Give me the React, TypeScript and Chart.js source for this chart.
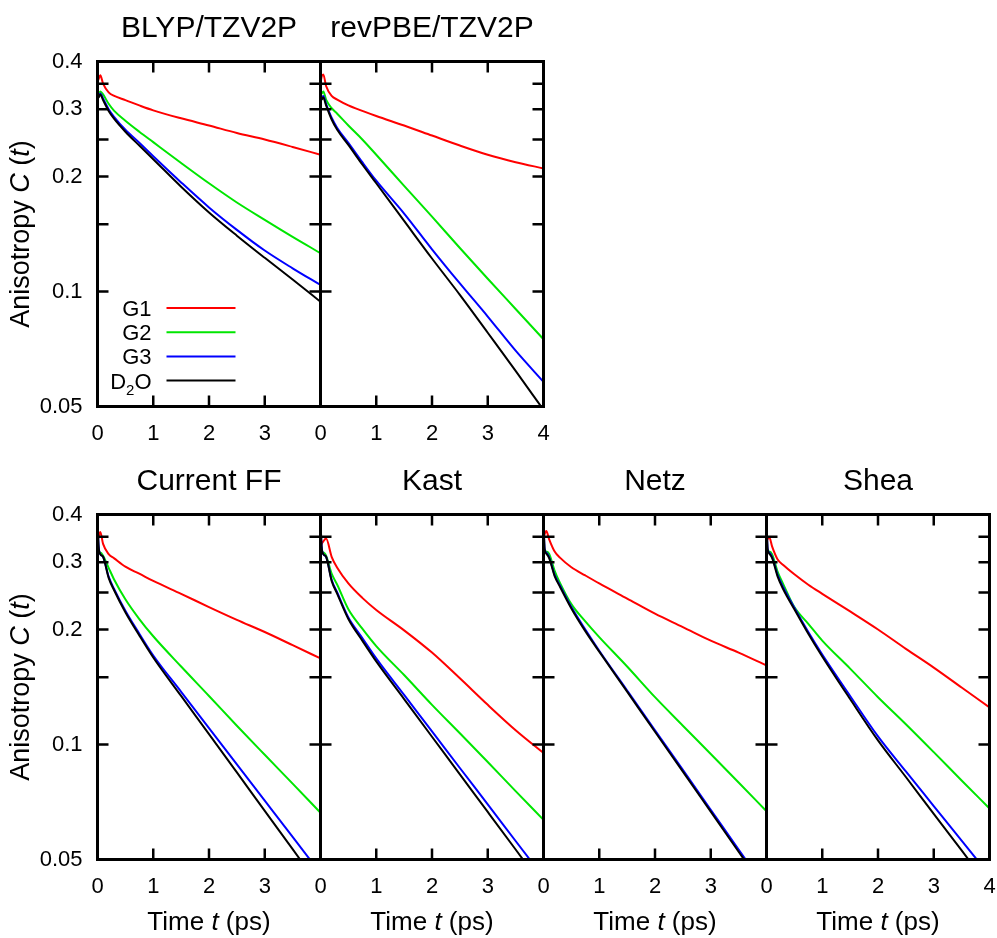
import React, { useEffect, useRef } from 'react';
import { Chart, registerables } from 'chart.js';

Chart.register(...registerables);

// ---------------- data ----------------
const timePs = [0, 0.02, 0.05, 0.1, 0.2, 0.3, 0.5, 0.75, 1, 1.5, 2, 2.5, 3, 3.5, 4];
const seriesNames = ['G1', 'G2', 'G3', 'D2O'];
const seriesColors = ['#ff0000', '#00e600', '#0000ff', '#000000'];

const panelTitles = ['BLYP/TZV2P', 'revPBE/TZV2P', 'Current FF', 'Kast', 'Netz', 'Shea'];

const blypG1 = [0.355, 0.36, 0.368, 0.35, 0.332, 0.325, 0.317, 0.307, 0.298, 0.284, 0.272, 0.26, 0.25, 0.239, 0.228];
const blypG2 = [0.33, 0.33, 0.334, 0.328, 0.31, 0.297, 0.28, 0.262, 0.246, 0.217, 0.192, 0.171, 0.154, 0.139, 0.126];
const blypG3 = [0.34, 0.325, 0.33, 0.32, 0.3, 0.286, 0.265, 0.245, 0.226, 0.193, 0.166, 0.145, 0.128, 0.115, 0.104];
const blypD2O = [0.34, 0.322, 0.328, 0.317, 0.297, 0.283, 0.262, 0.241, 0.222, 0.188, 0.161, 0.14, 0.1225, 0.1075, 0.094];

const revpbeG1 = [0.35, 0.365, 0.37, 0.345, 0.325, 0.318, 0.307, 0.297, 0.288, 0.272, 0.256, 0.241, 0.228, 0.218, 0.21];
const revpbeG2 = [0.33, 0.33, 0.334, 0.318, 0.302, 0.292, 0.272, 0.25, 0.228, 0.189, 0.157, 0.13, 0.108, 0.09, 0.075];
const revpbeG3 = [0.34, 0.32, 0.325, 0.31, 0.285, 0.268, 0.245, 0.218, 0.195, 0.16, 0.129, 0.105, 0.086, 0.07, 0.058];
const revpbeD2O = [0.34, 0.318, 0.322, 0.307, 0.282, 0.265, 0.242, 0.215, 0.192, 0.153, 0.122, 0.098, 0.078, 0.062, 0.049];

const currentG1 = [0.34, 0.35, 0.36, 0.335, 0.315, 0.307, 0.292, 0.28, 0.268, 0.248, 0.229, 0.212, 0.197, 0.182, 0.168];
const currentG2 = [0.33, 0.318, 0.318, 0.312, 0.29, 0.27, 0.24, 0.213, 0.192, 0.16, 0.134, 0.112, 0.094, 0.079, 0.0663];
const currentG3 = [0.38, 0.33, 0.315, 0.31, 0.275, 0.255, 0.224, 0.195, 0.171, 0.1374, 0.1104, 0.0887, 0.0713, 0.0573, 0.046];
const currentD2O = [0.39, 0.33, 0.315, 0.31, 0.273, 0.253, 0.222, 0.193, 0.169, 0.134, 0.1065, 0.0845, 0.067, 0.0532, 0.0422];

const kastG1 = [0.33, 0.335, 0.34, 0.346, 0.31, 0.29, 0.264, 0.242, 0.225, 0.199, 0.174, 0.149, 0.127, 0.109, 0.095];
const kastG2 = [0.33, 0.318, 0.318, 0.312, 0.28, 0.262, 0.226, 0.201, 0.181, 0.152, 0.127, 0.107, 0.09, 0.0755, 0.0635];
const kastG3 = [0.38, 0.33, 0.315, 0.31, 0.27, 0.25, 0.215, 0.19, 0.168, 0.1348, 0.1082, 0.0868, 0.0697, 0.0559, 0.0449];
const kastD2O = [0.39, 0.33, 0.315, 0.31, 0.268, 0.248, 0.213, 0.187, 0.165, 0.1315, 0.1048, 0.0835, 0.0666, 0.0531, 0.0423];

const netzG1 = [0.345, 0.355, 0.362, 0.345, 0.32, 0.308, 0.291, 0.277, 0.264, 0.241, 0.22, 0.203, 0.187, 0.174, 0.161];
const netzG2 = [0.33, 0.318, 0.32, 0.316, 0.285, 0.264, 0.233, 0.21, 0.191, 0.16, 0.133, 0.112, 0.0944, 0.0795, 0.0669];
const netzG3 = [0.38, 0.325, 0.318, 0.31, 0.278, 0.26, 0.229, 0.2, 0.176, 0.1385, 0.109, 0.0858, 0.0675, 0.0531, 0.0418];
const netzD2O = [0.39, 0.325, 0.316, 0.308, 0.276, 0.258, 0.227, 0.198, 0.175, 0.1375, 0.108, 0.0849, 0.0667, 0.0524, 0.0412];

const sheaG1 = [0.34, 0.345, 0.349, 0.33, 0.305, 0.295, 0.279, 0.262, 0.248, 0.223, 0.2, 0.178, 0.159, 0.141, 0.125];
const sheaG2 = [0.33, 0.318, 0.32, 0.315, 0.283, 0.263, 0.229, 0.207, 0.187, 0.158, 0.133, 0.113, 0.0955, 0.0805, 0.068];
const sheaG3 = [0.38, 0.325, 0.318, 0.31, 0.278, 0.258, 0.228, 0.197, 0.172, 0.134, 0.105, 0.085, 0.069, 0.056, 0.0455];
const sheaD2O = [0.39, 0.325, 0.316, 0.308, 0.275, 0.255, 0.226, 0.195, 0.17, 0.1315, 0.1025, 0.0822, 0.0658, 0.0528, 0.0423];

const yTickValues = [0.05, 0.1, 0.15, 0.2, 0.25, 0.3, 0.35, 0.4];
const yLabelValues = [0.05, 0.1, 0.2, 0.3, 0.4];
const xTickValues = [0, 1, 2, 3, 4];
const xMin = 0;
const xMax = 4;
const yMin = 0.05;
const yMax = 0.4;

// ---------------- layout ----------------
const FONT = '"Liberation Sans", Arial, Helvetica, sans-serif';
const PLOT_W = 223;
const PLOT_H = 345;
const PAD_L = 80.5;
const PAD_T = 30.5;
const PAD_R = 20.5;
const PAD_B = 50.5;
const TICK_LEN = 11;

type PanelDef = {
  title: string;
  series: number[][];
  plotLeft: number;
  plotTop: number;
  showY: boolean;
  showLast: boolean;
  legend: boolean;
};

const panels: PanelDef[] = [
  { title: panelTitles[0], series: [blypG1, blypG2, blypG3, blypD2O], plotLeft: 97.5, plotTop: 61.5, showY: true, showLast: false, legend: true },
  { title: panelTitles[1], series: [revpbeG1, revpbeG2, revpbeG3, revpbeD2O], plotLeft: 320.5, plotTop: 61.5, showY: false, showLast: true, legend: false },
  { title: panelTitles[2], series: [currentG1, currentG2, currentG3, currentD2O], plotLeft: 97.5, plotTop: 514.5, showY: true, showLast: false, legend: false },
  { title: panelTitles[3], series: [kastG1, kastG2, kastG3, kastD2O], plotLeft: 320.5, plotTop: 514.5, showY: false, showLast: false, legend: false },
  { title: panelTitles[4], series: [netzG1, netzG2, netzG3, netzD2O], plotLeft: 543.5, plotTop: 514.5, showY: false, showLast: false, legend: false },
  { title: panelTitles[5], series: [sheaG1, sheaG2, sheaG3, sheaD2O], plotLeft: 766.5, plotTop: 514.5, showY: false, showLast: true, legend: false },
];

const frameTicksPlugin = {
  id: 'frameTicks',
  afterDatasetsDraw(chart: any) {
    const { ctx, chartArea } = chart;
    const { left, top, right, bottom } = chartArea;
    const xs = chart.scales.x;
    const ys = chart.scales.y;
    ctx.save();
    ctx.strokeStyle = '#000';
    ctx.lineCap = 'butt';
    ctx.lineWidth = 2.5;
    ctx.beginPath();
    yTickValues.forEach((v) => {
      if (v <= yMin || v >= yMax) return;
      const py = ys.getPixelForValue(v);
      ctx.moveTo(left, py);
      ctx.lineTo(left + TICK_LEN, py);
      ctx.moveTo(right, py);
      ctx.lineTo(right - TICK_LEN, py);
    });
    xTickValues.forEach((v) => {
      if (v <= xMin || v >= xMax) return;
      const px = xs.getPixelForValue(v);
      ctx.moveTo(px, bottom);
      ctx.lineTo(px, bottom - TICK_LEN);
      ctx.moveTo(px, top);
      ctx.lineTo(px, top + TICK_LEN);
    });
    ctx.stroke();
    ctx.lineWidth = 3;
    ctx.strokeRect(left, top, right - left, bottom - top);
    ctx.restore();
  },
};

function drawLabel(ctx: CanvasRenderingContext2D, label: string, rightX: number, baseY: number) {
  const big = `22px ${FONT}`;
  const small = `15px ${FONT}`;
  const m = label.match(/^([A-Za-z]+)(\d)([A-Za-z]+)$/);
  ctx.textBaseline = 'alphabetic';
  ctx.textAlign = 'left';
  if (!m) {
    ctx.font = big;
    const w = ctx.measureText(label).width;
    ctx.fillText(label, rightX - w, baseY);
    return;
  }
  ctx.font = big;
  const w1 = ctx.measureText(m[1]).width;
  const w3 = ctx.measureText(m[3]).width;
  ctx.font = small;
  const w2 = ctx.measureText(m[2]).width;
  let x = rightX - (w1 + w2 + w3);
  ctx.font = big;
  ctx.fillText(m[1], x, baseY);
  x += w1;
  ctx.font = small;
  ctx.fillText(m[2], x, baseY + 6);
  x += w2;
  ctx.font = big;
  ctx.fillText(m[3], x, baseY);
}

const legendPlugin = {
  id: 'gnuLegend',
  afterDatasetsDraw(chart: any, _args: any, opts: any) {
    if (!opts || !opts.show) return;
    const { ctx, chartArea } = chart;
    const { left, top } = chartArea;
    ctx.save();
    ctx.fillStyle = '#000';
    chart.data.datasets.forEach((ds: any, i: number) => {
      const cy = top + 246.5 + i * 24.2;
      drawLabel(ctx, ds.label, left + 54, cy + 8);
      ctx.strokeStyle = ds.borderColor;
      ctx.lineWidth = 2;
      ctx.beginPath();
      ctx.moveTo(left + 69, cy);
      ctx.lineTo(left + 138, cy);
      ctx.stroke();
    });
    ctx.restore();
  },
};

function Panel({ def }: { def: PanelDef }) {
  const ref = useRef<HTMLCanvasElement | null>(null);
  const canvasLeft = def.plotLeft - PAD_L;
  const canvasTop = def.plotTop - PAD_T;
  const cw = PAD_L + PLOT_W + PAD_R;
  const ch = PAD_T + PLOT_H + PAD_B;

  useEffect(() => {
    if (!ref.current) return;
    const tickFont = { family: FONT, size: 22 };
    const chart = new Chart(ref.current, {
      type: 'line',
      data: {
        datasets: def.series.map((vals, i) => ({
          label: seriesNames[i],
          data: vals.map((v, k) => ({ x: timePs[k], y: v })),
          borderColor: seriesColors[i],
          backgroundColor: seriesColors[i],
          borderWidth: 2,
          pointRadius: 0,
          fill: false,
          cubicInterpolationMode: 'monotone' as const,
          order: 3 - i,
        })),
      },
      options: {
        animation: false,
        responsive: false,
        maintainAspectRatio: false,
        devicePixelRatio: 1,
        events: [],
        layout: { padding: { left: 0, top: PAD_T, right: PAD_R, bottom: 0 } },
        plugins: {
          legend: { display: false },
          tooltip: { enabled: false },
          title: { display: false },
          gnuLegend: { show: def.legend },
        } as any,
        scales: {
          x: {
            type: 'linear',
            min: xMin,
            max: xMax,
            grid: { display: false, drawTicks: false },
            border: { display: false },
            afterBuildTicks: (s: any) => {
              s.ticks = xTickValues.map((v) => ({ value: v }));
            },
            afterFit: (s: any) => {
              s.height = PAD_B;
            },
            ticks: {
              padding: 14,
              color: '#000',
              font: tickFont,
              autoSkip: false,
              maxRotation: 0,
              callback: (v: any) => (v === xMax && !def.showLast ? '' : String(v)),
            },
          },
          y: {
            type: 'logarithmic',
            min: yMin,
            max: yMax,
            grid: { display: false, drawTicks: false },
            border: { display: false },
            afterBuildTicks: (s: any) => {
              s.ticks = yTickValues.map((v) => ({ value: v }));
            },
            afterFit: (s: any) => {
              s.width = PAD_L;
            },
            ticks: {
              display: def.showY,
              padding: 15,
              color: '#000',
              font: tickFont,
              autoSkip: false,
              callback: (v: any) => (yLabelValues.includes(v) ? String(v) : ''),
            },
          },
        },
      } as any,
      plugins: [frameTicksPlugin, legendPlugin],
    });
    return () => chart.destroy();
  }, [def]);

  return (
    <canvas
      ref={ref}
      width={cw}
      height={ch}
      style={{ position: 'absolute', left: canvasLeft, top: canvasTop, width: cw, height: ch }}
    />
  );
}

const textBase: React.CSSProperties = {
  position: 'absolute',
  fontFamily: FONT,
  color: '#000',
  lineHeight: 1,
  whiteSpace: 'nowrap',
};

export default function App() {
  return (
    <div style={{ position: 'absolute', left: 0, top: 0, width: 997, height: 938, background: '#fff', overflow: 'hidden' }}>
      {panels.map((p, i) => (
        <Panel key={i} def={p} />
      ))}
      {panels.map((p, i) => (
        <div
          key={'t' + i}
          style={{
            ...textBase,
            fontSize: 30,
            left: p.plotLeft + PLOT_W / 2,
            top: p.plotTop - 50,
            transform: 'translateX(-50%)',
          }}
        >
          {p.title}
        </div>
      ))}
      {panels.filter((p) => p.showY).map((p, i) => (
        <div
          key={'y' + i}
          style={{
            ...textBase,
            fontSize: 27,
            left: 20,
            top: p.plotTop + PLOT_H / 2,
            transform: 'translate(-50%, -50%) rotate(-90deg)',
          }}
        >
          Anisotropy <i>C</i> (<i>t</i>)
        </div>
      ))}
      {panels.filter((p) => p.plotTop > 300).map((p, i) => (
        <div
          key={'x' + i}
          style={{
            ...textBase,
            fontSize: 26,
            left: p.plotLeft + PLOT_W / 2,
            top: 908,
            transform: 'translateX(-50%)',
          }}
        >
          Time <i>t</i> (ps)
        </div>
      ))}
    </div>
  );
}
